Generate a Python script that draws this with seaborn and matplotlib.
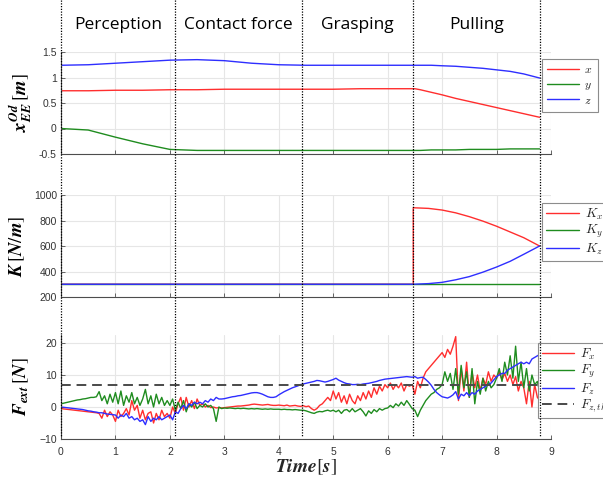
import numpy as np
import pandas as pd
import matplotlib
matplotlib.use("Agg")
import matplotlib.pyplot as plt
import seaborn as sns
from matplotlib.lines import Line2D
from matplotlib.transforms import blended_transform_factory

# ---------------- data ----------------
# phase boundaries (s) and labels
phase_t = [0.0, 2.1, 4.43, 6.47, 8.79]
phase_names = ["Perception", "Contact force", "Grasping", "Pulling"]

# end-effector desired position
tp = [0, 0.5, 1.0, 1.5, 2.0, 2.5, 3.0, 3.5, 4.0, 4.5, 5.0, 5.5, 6.0, 6.5,
      6.6, 6.8, 7.0, 7.25, 7.5, 7.75, 8.0, 8.25, 8.5, 8.79]
pos_x = [0.74, 0.74, 0.75, 0.75, 0.76, 0.76, 0.77, 0.77, 0.77, 0.77, 0.77, 0.78, 0.78, 0.78,
         0.76, 0.71, 0.66, 0.59, 0.53, 0.47, 0.41, 0.35, 0.29, 0.22]
pos_y = [0.0, -0.03, -0.17, -0.30, -0.41, -0.43, -0.43, -0.43, -0.43, -0.43, -0.43, -0.43, -0.43, -0.43,
         -0.43, -0.42, -0.42, -0.42, -0.41, -0.41, -0.41, -0.40, -0.40, -0.40]
pos_z = [1.24, 1.25, 1.28, 1.31, 1.34, 1.35, 1.33, 1.28, 1.25, 1.24, 1.24, 1.24, 1.24, 1.24,
         1.24, 1.24, 1.23, 1.22, 1.20, 1.18, 1.15, 1.12, 1.07, 0.99]

# stiffness
tk = [0, 6.47, 6.47, 6.75, 7.0, 7.25, 7.5, 7.75, 8.0, 8.25, 8.5, 8.79]
K_x = [300, 300, 900, 895, 882, 860, 830, 795, 755, 710, 665, 600]
tky = [0, 8.79]
K_y = [300, 300]
K_z = [300, 300, 300, 305, 315, 335, 360, 395, 435, 480, 535, 600]

# external forces, sampled every 0.05 s from 0 to 8.8 s
tf = np.round(np.arange(0, 177) * 0.05, 2)
F_x = [
    -0.5, -0.6, -0.7, -0.8, -0.9, -1.0, -1.1, -1.2, -1.3, -1.4, -1.5, -1.6, -1.7, -1.8, -2.0, -3.5, -1.0, -3.0, -1.5, -2.5,
    -4.5, -1.0, -3.0, -2.0, -0.5, -2.5, 2.0, -1.0, 0.5, -3.5, -1.0, -4.0, -2.0, -1.5, -5.0, -2.0, -4.0, -1.0, -3.0, -2.0,
    -3.5, 0.0, -2.0, 1.0, 3.0, -1.0, 3.0, 0.0, 2.0, -0.5, 2.5, 0.5, 1.0, 0.0, 0.5, -0.2, 0.0, -0.3, -0.2, -0.3,
    -0.2, -0.1, 0.0, 0.1, 0.2, 0.3, 0.3, 0.4, 0.5, 0.6, 0.8, 0.9, 0.8, 0.7, 0.6, 0.7, 0.8, 0.6, 0.5, 0.5,
    0.6, 0.5, 0.4, 0.6, 0.3, 0.4, 0.5, 0.3, 0.2, 0.4, 0.1, 0.3, -0.5, -1.0, -0.5, 0.5, 1.0, 2.0, 3.0, 2.0,
    5.0, 2.5, 4.5, 1.5, 3.5, 1.0, 4.0, 2.0, 1.0, 3.5, 2.0, 4.5, 2.5, 5.0, 3.0, 6.0, 4.0, 6.5, 5.0, 7.0,
    6.0, 7.5, 5.5, 7.0, 6.0, 7.5, 5.0, 7.0, 6.5, 7.0, 4.0, 8.0, 6.0, 9.0, 11.0, 12.0, 13.0, 14.0, 15.0, 16.0,
    17.0, 15.5, 18.0, 16.5, 19.0, 22.0, 2.0, 12.0, 5.0, 14.0, 3.0, 11.0, 6.0, 10.0, 5.0, 9.0, 7.0, 11.0, 8.0, 10.0,
    9.0, 11.0, 8.5, 10.5, 8.0, 10.0, 7.0, 9.5, 5.0, 8.0, 6.0, 1.0, 8.0, 0.0, 7.0, 3.0, 2.0,
]
F_y = [
    1.0, 1.2, 1.4, 1.6, 1.8, 2.0, 2.2, 2.3, 2.5, 2.6, 2.8, 3.0, 3.0, 3.2, 4.8, 2.0, 3.5, 1.0, 4.0, 1.5,
    4.5, 1.0, 5.0, 0.5, 3.5, 1.5, 4.5, 1.0, 3.0, 0.5, 2.5, 5.5, 1.0, 3.5, 0.0, 4.0, 1.0, 3.0, 0.5, 2.0,
    0.5, 2.5, -1.0, 1.5, -0.5, 2.0, -1.5, 1.0, 0.0, 1.5, -0.5, 0.5, 0.0, 1.0, 0.0, 0.5, -0.5, -4.5, 0.0, -0.5,
    -0.3, -0.4, -0.3, -0.4, -0.5, -0.4, -0.5, -0.4, -0.5, -0.6, -0.5, -0.6, -0.5, -0.6, -0.7, -0.6, -0.7, -0.6, -0.7, -0.7,
    -0.7, -0.8, -0.7, -0.8, -0.8, -0.9, -0.8, -0.9, -1.0, -1.0, -1.2, -1.5, -1.8, -2.0, -1.6, -1.4, -1.5, -1.2, -1.0, -1.3,
    -1.0, -1.5, -1.0, -2.0, -1.0, -0.8, -1.5, -0.5, -1.5, -1.0, -0.5, -1.5, -2.8, -1.2, -2.0, -0.8, -1.5, -0.5, -1.0, -0.5,
    -0.3, 0.5, -0.2, 1.0, 0.3, 1.5, 0.5, 2.0, 0.8, -0.5, -1.0, -3.0, -1.0, 0.5, 2.0, 3.0, 4.0, 4.5, 5.5, 6.0,
    7.0, 11.0, 8.0, 10.5, 5.5, 12.0, 4.0, 13.0, 6.0, 11.0, 3.0, 12.0, 1.0, 8.0, 4.0, 9.0, 5.0, 8.0, 6.0, 7.0,
    9.0, 12.0, 8.0, 14.0, 10.0, 16.0, 9.0, 19.0, 8.0, 14.0, 6.0, 12.0, 5.0, 10.0, 7.0, 8.0, 4.0,
]
F_z = [
    0.0, -0.1, -0.2, -0.3, -0.4, -0.5, -0.6, -0.7, -0.8, -1.0, -1.2, -1.3, -1.5, -1.6, -1.8, -1.8, -2.0, -2.2, -2.3, -2.4,
    -2.5, -3.5, -2.5, -3.0, -2.0, -3.5, -3.0, -4.0, -3.5, -4.5, -4.0, -5.5, -3.0, -4.5, -3.5, -4.0, -3.0, -4.0, -3.5, -3.0,
    -2.5, -4.0, -1.5, -2.0, -0.5, 0.5, -0.5, 1.0, 0.5, 1.5, 1.0, 1.5, 1.0, 2.0, 1.5, 2.5, 2.0, 3.0, 2.5, 2.5,
    2.6, 2.8, 3.0, 3.2, 3.3, 3.5, 3.6, 3.8, 4.0, 4.2, 4.4, 4.5, 4.5, 4.3, 4.0, 3.6, 3.2, 3.0, 3.0, 3.2,
    3.8, 4.3, 4.8, 5.2, 5.6, 6.0, 6.3, 6.6, 7.0, 7.2, 7.4, 7.6, 7.8, 8.0, 8.3, 8.2, 8.0, 7.8, 8.0, 8.3,
    8.6, 9.0, 8.4, 8.0, 7.6, 7.3, 7.2, 7.0, 7.0, 7.1, 7.0, 7.2, 7.3, 7.4, 7.6, 7.8, 8.0, 8.3, 8.5, 8.7,
    8.8, 8.9, 9.0, 9.1, 9.2, 9.3, 9.4, 9.5, 9.4, 9.3, 9.5, 9.0, 9.2, 9.3, 8.6, 7.8, 6.8, 5.5, 4.5, 3.8,
    3.2, 3.0, 2.8, 3.2, 3.8, 4.8, 2.5, 4.0, 3.5, 4.5, 3.5, 4.5, 4.0, 5.0, 5.5, 6.0, 6.5, 7.0, 7.5, 8.5,
    9.5, 10.0, 10.5, 10.5, 11.5, 12.0, 12.5, 13.0, 13.5, 14.0, 13.5, 14.0, 13.5, 15.0, 15.5, 16.0, 16.5,
]
th_t = [0.0, 8.8]
F_th = [7.0, 7.0]

# ---------------- styling ----------------
sns.set_theme(style="whitegrid")
plt.rcParams["font.family"] = ["Liberation Sans", "DejaVu Sans"]
plt.rcParams["mathtext.fontset"] = "cm"

RED = "#ff2e2e"
GREEN = "#1f8c1f"
BLUE = "#2e2eff"
GRAY_AX = "#4d4d4d"

W, H = 603, 478
fig = plt.figure(figsize=(W / 100, H / 100), dpi=100)

left = 61 / W
width = (551 - 61) / W
ax1 = fig.add_axes([left, 1 - 154 / H, width, 102 / H])
ax2 = fig.add_axes([left, 1 - 297 / H, width, 102 / H])
ax3 = fig.add_axes([left, 1 - 439 / H, width, 104 / H])


def style_axes(ax, show_x):
    ax.set_xlim(0, 9)
    ax.set_xticks(range(0, 10))
    ax.grid(True, color="#e6e6e6", linewidth=0.8)
    for s in ["top", "right"]:
        ax.spines[s].set_visible(False)
    for s in ["left", "bottom"]:
        ax.spines[s].set_visible(True)
        ax.spines[s].set_color(GRAY_AX)
        ax.spines[s].set_linewidth(0.8)
    ax.tick_params(direction="in", length=3, width=0.6, color=GRAY_AX,
                   labelsize=7.5, labelcolor="#333333", pad=3,
                   left=True, bottom=True)
    ax.tick_params(axis="x", pad=6)
    if not show_x:
        ax.tick_params(labelbottom=False)
    ax.set_facecolor("white")


def draw(ax, x, y, color, **kw):
    sns.lineplot(x=x, y=y, ax=ax, color=color, sort=False, estimator=None,
                 linewidth=1.0, **kw)


# top: positions
draw(ax1, tp, pos_x, RED)
draw(ax1, tp, pos_y, GREEN)
draw(ax1, tp, pos_z, BLUE)
style_axes(ax1, False)
ax1.set_ylim(-0.5, 1.5)
ax1.set_yticks([-0.5, 0, 0.5, 1, 1.5])
ax1.set_yticklabels(["-0.5", "0", "0.5", "1", "1.5"])

# middle: stiffness
draw(ax2, tk, K_x, RED)
draw(ax2, tky, K_y, GREEN)
draw(ax2, tk, K_z, BLUE)
style_axes(ax2, False)
ax2.set_ylim(200, 1000)
ax2.set_yticks([200, 400, 600, 800, 1000])

# bottom: forces
draw(ax3, list(tf), F_x, RED)
draw(ax3, list(tf), F_y, GREEN)
draw(ax3, list(tf), F_z, BLUE)
sns.lineplot(x=th_t, y=F_th, ax=ax3, color="#4a4a4a", linewidth=1.4,
             linestyle=(0, (5, 3)), sort=False, estimator=None)
style_axes(ax3, True)
ax3.set_ylim(-10, 22.5)
ax3.set_yticks([-10, 0, 10, 20])

# labels
lab_kw = dict(fontsize=13.5, color="black", math_fontfamily="stix")
ax1.set_ylabel(r"$\mathbfit{x}_{\mathbfit{EE}}^{\mathbfit{Od}}\,[\mathbfit{m}]$", **lab_kw)
ax2.set_ylabel(r"$\mathbfit{K}\,[\mathbfit{N}/\mathbfit{m}]$", **lab_kw)
ax3.set_ylabel(r"$\mathbfit{F}_{\mathbfit{ext}}\,[\mathbfit{N}]$", **lab_kw)
for ax, xc in [(ax1, 21), (ax2, 17), (ax3, 21)]:
    ax.yaxis.label.set_verticalalignment("center")
    ax.yaxis.set_label_coords((xc - 61) / 490, 0.5)
ax3.set_xlabel(r"$\mathbfit{Time}[\mathbfit{s}]$", fontsize=14, math_fontfamily="stix",
               labelpad=0)

# legends
def legend(ax, labels, x0, y0, fs, hl, pad, ls):
    handles = [l for l in ax.get_lines()][: len(labels)]
    leg = ax.legend(handles, labels, loc="upper left",
                    bbox_to_anchor=(x0 / W, 1 - y0 / H),
                    bbox_transform=fig.transFigure, borderaxespad=0,
                    fontsize=fs, frameon=True, fancybox=False,
                    handlelength=hl, handletextpad=0.45, labelspacing=ls,
                    borderpad=pad, framealpha=1)
    leg.get_frame().set_edgecolor("#8c8c8c")
    leg.get_frame().set_linewidth(0.8)
    for t in leg.get_texts():
        t.set_math_fontfamily("cm")
    return leg

legend(ax1, [r"$x$", r"$y$", r"$z$"], 542, 59, 8.5, 2.7, 0.45, 0.22)
legend(ax2, [r"$K_x$", r"$K_y$", r"$K_z$"], 542, 203, 9.5, 2.5, 0.3, 0.08)
legend(ax3, [r"$F_x$", r"$F_y$", r"$F_z$", r"$F_{z,th}$"], 538, 343, 9.5, 2.4, 0.3, 0.08)

# phase separators (dotted lines through the whole figure)
trans = blended_transform_factory(ax3.transData, fig.transFigure)
for t in phase_t:
    fig.add_artist(Line2D([t, t], [1.0, 1 - 436 / H], transform=trans,
                          color="black", linestyle=(0, (1, 1.2)), linewidth=0.9))

# phase titles
for i, name in enumerate(phase_names):
    xc = 0.5 * (phase_t[i] + phase_t[i + 1])
    fig.text(xc, 1 - 25 / H, name, transform=trans, ha="center", va="center",
             fontsize=12.5, family=["Open Sans", "DejaVu Sans"], color="black")

fig.savefig("out.png", dpi=100)
